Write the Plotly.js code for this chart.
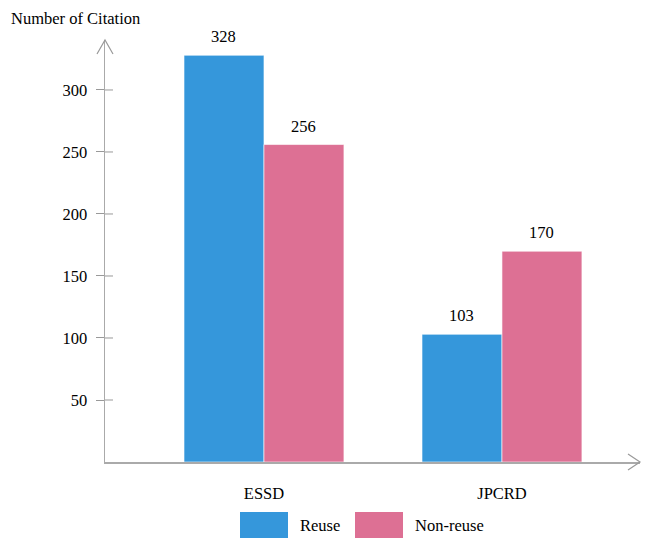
<!DOCTYPE html>
<html>
<head>
<meta charset="utf-8">
<script src="https://cdn.plot.ly/plotly-3.0.1.min.js"></script>
<style>html,body{margin:0;padding:0;background:#fff}#chart{width:648px;height:540px}</style>
</head>
<body>
<div id="chart"></div>
<script>
const categories = ["ESSD", "JPCRD"];
const reuse = [328, 103];
const nonReuse = [256, 170];
const seriesNames = ["Reuse", "Non-reuse"];
const colors = ["#3597db", "#dd7094"];
const yTicks = [50, 100, 150, 200, 250, 300];

const W = 648, H = 540;
const M = {l: 105, r: 8, t: 40, b: 78};
const pw = W - M.l - M.r, ph = H - M.t - M.b;
const font = "Liberation Serif, Times New Roman, serif";
const fs = 16.5;
const tc = "#000";

const traces = [
  {type: "bar", name: seriesNames[0], x: categories, y: reuse, marker: {color: colors[0], line: {color: "rgba(255,255,255,0.6)", width: 1}}},
  {type: "bar", name: seriesNames[1], x: categories, y: nonReuse, marker: {color: colors[1], line: {color: "rgba(255,255,255,0.6)", width: 1}}}
];

const annotations = [];
[reuse, nonReuse].forEach((vals, si) => {
  vals.forEach((v, i) => {
    annotations.push({x: categories[i], y: v, xref: "x", yref: "y", text: String(v), showarrow: false,
      xshift: si === 0 ? -40 : 40, yanchor: "bottom", yshift: 7,
      font: {family: font, size: fs, color: tc}});
  });
});
annotations.push({xref: "paper", yref: "paper", x: (9 - M.l) / pw, y: 1 + (M.t - 18) / ph, xanchor: "left", yanchor: "middle",
  text: "Number of Citation", showarrow: false, font: {family: font, size: fs, color: tc}});

// custom legend
const shapes = [];
const legX = [240, 355];
seriesNames.forEach((n, i) => {
  const x0 = (legX[i] - M.l) / pw, x1 = (legX[i] + 48 - M.l) / pw;
  const y0 = -(538 - (H - M.b)) / ph, y1 = -(512 - (H - M.b)) / ph;
  shapes.push({type: "rect", xref: "paper", yref: "paper", x0: x0, x1: x1, y0: y0, y1: y1, fillcolor: colors[i], line: {width: 0}});
  annotations.push({xref: "paper", yref: "paper", x: (legX[i] + 58 - M.l) / pw, y: (y0 + y1) / 2, xanchor: "left", yanchor: "middle",
    text: n, showarrow: false, font: {family: font, size: fs, color: tc}});
});

// tick inner parts
yTicks.forEach(t => {
  shapes.push({type: "line", xref: "paper", yref: "y", x0: 0, x1: 8 / pw, y0: t, y1: t, line: {color: "#999", width: 1}});
});
// arrows
const ax = 12 / pw, ay = 8 / ph;
shapes.push({type: "path", xref: "paper", yref: "paper", path: `M ${1 - ax} ${ay} L 1 0 L ${1 - ax} ${-ay}`, line: {color: "#999", width: 1.2}});
const bx = 8 / pw, by = 14 / ph;
shapes.push({type: "path", xref: "paper", yref: "paper", path: `M ${-bx} ${1 - by} L 0 1 L ${bx} ${1 - by}`, line: {color: "#999", width: 1.2}});

const layout = {
  width: W, height: H,
  margin: M,
  paper_bgcolor: "#fff", plot_bgcolor: "#fff",
  barmode: "group", bargap: 0.328, bargroupgap: 0,
  showlegend: false,
  font: {family: font, size: fs, color: tc},
  xaxis: {type: "category", range: [-0.668, 1.58], showline: true, linecolor: "#aaa", linewidth: 2,
    ticks: "", showgrid: false, zeroline: false, ticklabelstandoff: 15, tickfont: {family: font, size: fs, color: tc}},
  yaxis: {range: [0, 340.3], showline: true, linecolor: "#aaa", linewidth: 1.5, tickvals: yTicks,
    ticks: "outside", ticklen: 8, tickcolor: "#999", tickwidth: 1, ticklabelstandoff: 5,
    showgrid: false, zeroline: false, tickfont: {family: font, size: fs, color: tc}},
  annotations: annotations,
  shapes: shapes
};

Plotly.newPlot("chart", traces, layout, {displayModeBar: false, staticPlot: true});
</script>
</body>
</html>
